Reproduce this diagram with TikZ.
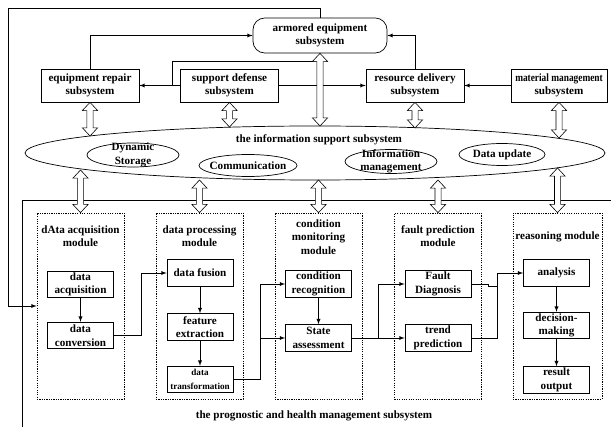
\documentclass[tikz,border=0pt]{standalone}
\usepackage{fontspec}
\setmainfont{Liberation Serif}
\usepackage{graphicx}
\usetikzlibrary{calc}
\tikzset{
  sub/.style={draw, minimum width=2.94cm, minimum height=0.99cm, align=center, inner sep=1pt},
  modbox/.style={draw, dash pattern=on 1pt off 1pt, minimum width=2.61cm, minimum height=5.58cm},
  inbox/.style={draw, minimum width=1.98cm, minimum height=0.8cm, align=center, inner sep=1pt},
  hollow/.style={fill=white, line width=0.5pt},
}
\begin{document}
\begin{tikzpicture}[x=0.03cm,y=-0.03cm,>=latex,line width=0.6pt,font=\bfseries\fontsize{9.5}{11.5}\selectfont]
\useasboundingbox (0,0) rectangle (611,427);

% upper subsystems
\node[sub, rounded corners=10pt, minimum width=4.02cm, minimum height=1.05cm] (armored) at (320,35.5) {armored equipment\\subsystem};
\node[sub] (repair) at (90,85.5) {equipment repair\\subsystem};
\node[sub] (support) at (229.5,85.5) {support defense\\subsystem};
\node[sub] (resource) at (415,85.5) {resource delivery\\subsystem};
\node[sub, minimum width=2.88cm] (material) at (559,85.5) {\scalebox{0.84}[1]{material management}\\subsystem};

\draw[->] (repair.north) |- (armored.west);
\draw[->] (resource.north) |- (armored.east);
\draw[->] (support.west) -- (repair.east);
\draw[->] (support.east) -- (resource.west);
\draw[->] (material.west) -- (resource.east);
\coordinate (sb) at (172,85.5);
\coordinate (se) at (317,61);
\draw (sb) |- (se);

% information support subsystem
\draw (315,153) ellipse [x radius=290, y radius=27];
\node (infotitle) at (319,140) {the information support subsystem};
\draw (133,155) ellipse [x radius=46, y radius=12];
\node[align=center] (dyn) at (133,155) {Dynamic\\Storage};
\draw (248,165.5) ellipse [x radius=49, y radius=11];
\node (comm) at (248,165.5) {Communication};
\draw (391,161.5) ellipse [x radius=46, y radius=12];
\node[align=center] (infman) at (391,161.5) {Information\\management};
\draw (502,154.5) ellipse [x radius=43, y radius=11];
\node (upd) at (502,154.5) {Data update};

% PHM subsystem
\draw (22,440) -- (22,200) -- (620,200);
\node (phm) at (314,416) {the prognostic and health management subsystem};

\node[modbox] (acq) at (80.5,306) {};
\node[modbox] (proc) at (199.5,306) {};
\node[modbox] (cond) at (318.5,306) {};
\node[modbox] (fault) at (438,306) {};
\node[modbox, minimum width=2.67cm] (reas) at (557.5,306) {};

\node[align=center] (acqt) at (80.5,236) {dAta acquisition\\module};
\node[align=center] (proct) at (199.5,236) {data processing\\module};
\node[align=center] (condt) at (318.5,237) {condition\\monitoring\\module};
\node[align=center] (faultt) at (438,236) {fault prediction\\module};
\node (reast) at (557.5,237) {reasoning module};

\node[inbox] (dacq) at (80.5,284.5) {data\\acquisition};
\node[inbox] (dconv) at (80.5,335.5) {data\\conversion};
\node[inbox] (fusion) at (200,273) {data fusion};
\node[inbox] (feat) at (200,327) {feature\\extraction};
\node[inbox, font=\bfseries\fontsize{7.8}{11.5}\selectfont] (trans) at (200,379.5) {data\\transformation};
\node[inbox] (crec) at (318.5,284) {condition\\recognition};
\node[inbox] (sass) at (318.5,338) {State\\assessment};
\node[inbox] (fdiag) at (438,284) {Fault\\Diagnosis};
\node[inbox] (trend) at (438,338) {trend\\prediction};
\node[inbox] (anal) at (556.5,273) {analysis};
\node[inbox] (dec) at (556.5,325.5) {decision-\\making};
\node[inbox] (res) at (556.5,380) {result\\output};

\draw[->] (dacq) -- (dconv);
\draw[->] (dconv.east) -- ++(27,0) |- (fusion.west);
\draw[->] (fusion) -- (feat);
\draw[->] (feat) -- (trans);
\draw[->] (trans.east) -- ++(27,0) coordinate (j1) |- (crec.west);
\draw[->] (j1 |- sass.west) -- (sass.west);
\draw[->] (crec) -- (sass);
\draw[->] (sass.east) -- ++(26,0) |- (fdiag.west);
\draw[->] (sass.east) -- (trend.west);
\draw (fdiag.east) -- ++(17,0) -- ++(0,2) -- ++(9,0);
\draw[->] (trend.east) -- ++(26,0) |- (anal.west);
\draw[->] (anal) -- (dec);
\draw[->] (dec) -- (res);

% feedback to acquisition
\coordinate (fb1) at (320,8);
\coordinate (fb2) at (8,8);
\draw[->] (armored.north) -- (fb1) -- (fb2) |- (acq.west);

% hollow double arrows
\foreach \a/\b in {{repair.south}/{repair.south |- 0,136}, {support.south}/{support.south |- 0,127},
    {armored.south}/{armored.south |- 0,126}, {resource.south}/{resource.south |- 0,128},
    {material.south}/{material.south |- 0,138}, {acq.north |- 0,170}/{acq.north},
    {proc.north |- 0,180}/{proc.north}, {cond.north |- 0,180}/{cond.north},
    {fault.north |- 0,180}/{fault.north}, {reas.north |- 0,168}/{reas.north}}
  \draw[hollow] let \p1=(\a), \p2=(\b) in
    (\x1,\y1) -- ++(6.5pt,-7pt) -- ++(-3.9pt,0pt) -- (\x1+2.6pt,\y2+7pt) -- ++(3.9pt,0pt)
    -- (\x1,\y2) -- ++(-6.5pt,7pt) -- ++(3.9pt,0pt) -- (\x1-2.6pt,\y1-7pt) -- ++(-3.9pt,0pt) -- cycle;
\end{tikzpicture}
\end{document}
